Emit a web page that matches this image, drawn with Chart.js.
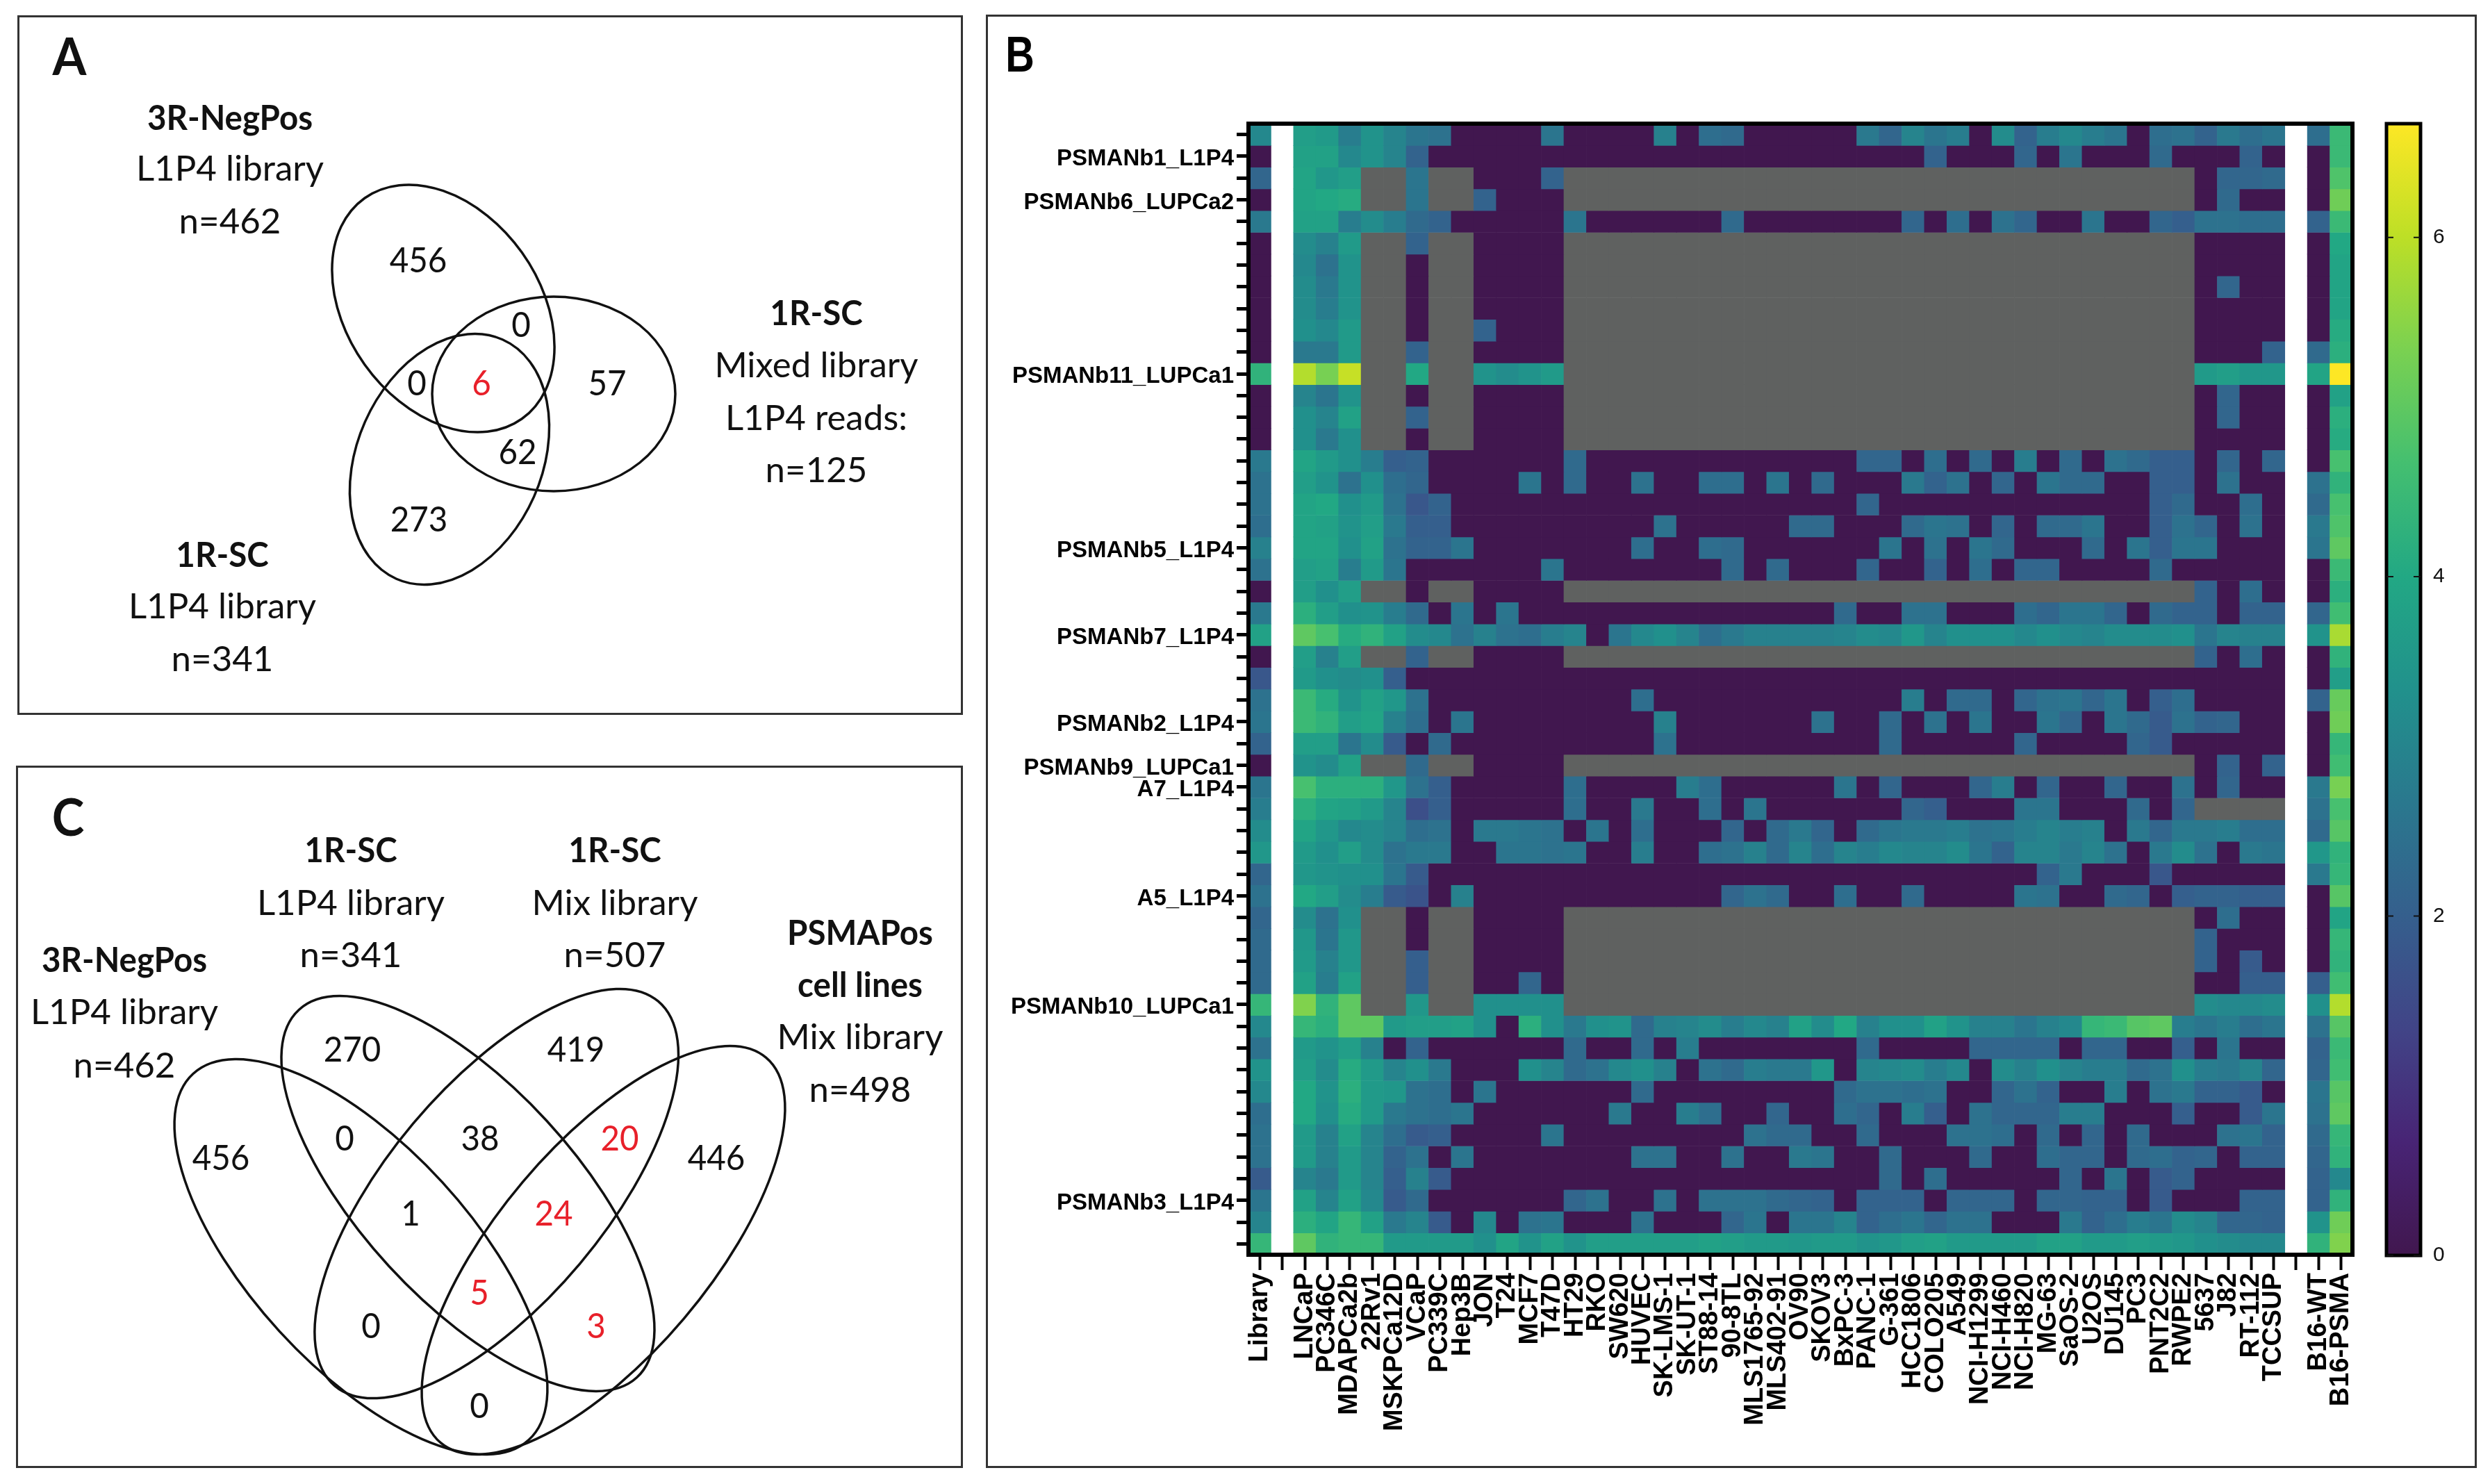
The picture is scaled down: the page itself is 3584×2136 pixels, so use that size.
<!DOCTYPE html>
<html>
<head>
<meta charset="utf-8">
<title>PSMA nanobody selection</title>
<script src="https://cdn.jsdelivr.net/npm/chart.js@4"></script>
<style>
    html, body { margin: 0; padding: 0; background: #fff; }
    #page { position: relative; width: 3584px; height: 2136px; overflow: hidden; background: #fff; }
    .panel { position: absolute; box-sizing: border-box; border: 3px solid #333; }
    canvas { position: absolute; }
</style>
</head>
<body>
<div id="page">
    <div class="panel" style="left:25px;top:22px;width:1361px;height:1007px"></div>
    <div class="panel" style="left:23px;top:1102px;width:1363px;height:1011px"></div>
    <div class="panel" style="left:1419px;top:21px;width:2146px;height:2092px"></div>
    <canvas id="vennA" width="1355" height="1001" style="left:28px;top:25px"></canvas>
    <canvas id="vennC" width="1357" height="1005" style="left:26px;top:1105px"></canvas>
    <canvas id="heatmap" width="2140" height="2086" style="left:1422px;top:24px"></canvas>
    <canvas id="colorbar" width="130" height="1670" style="left:3420px;top:160px"></canvas>
</div>
<script>
// ============================================
// DATA
// ============================================
const n = null; // not tested, drawn grey

const cellLines = ['Library', '', 'LNCaP', 'PC346C', 'MDAPCa2b', '22Rv1', 'MSKPCa12D', 'VCaP', 'PC339C', 'Hep3B',
    'JON', 'T24', 'MCF7', 'T47D', 'HT29', 'RKO', 'SW620', 'HUVEC', 'SK-LMS-1', 'SK-UT-1', 'ST88-14', '90-8TL',
    'MLS1765-92', 'MLS402-91', 'OV90', 'SKOV3', 'BxPC-3', 'PANC-1', 'G-361', 'HCC1806', 'COLO205', 'A549',
    'NCI-H1299', 'NCI-H460', 'NCI-H820', 'MG-63', 'SaOS-2', 'U2OS', 'DU145', 'PC3', 'PNT2C2', 'RWPE2',
    '5637', 'J82', 'RT-112', 'TCCSUP', '', 'B16-WT', 'B16-PSMA'];

const rowLabels = ['', 'PSMANb1_L1P4', '', 'PSMANb6_LUPCa2', '', '', '', '', '', '', '', 'PSMANb11_LUPCa1', '',
    '', '', '', '', '', '', 'PSMANb5_L1P4', '', '', '', 'PSMANb7_L1P4', '', '', '', 'PSMANb2_L1P4', '',
    'PSMANb9_LUPCa1', 'A7_L1P4', '', '', '', '', 'A5_L1P4', '', '', '', '', 'PSMANb10_LUPCa1', '', '', '', '',
    '', '', '', '', 'PSMANb3_L1P4', '', ''];

// one row per binder, one value per column of cellLines (log scale)
const heatmapRows = [
    [3.1,n,3.7,3.6,2.8,3.4,3.0,2.6,2.5,0,0,0,0,2.6,0,0,0,0,2.9,0,2.4,2.3,0,0,0,0,0,2.7,2.2,3.0,2.6,2.8,0,3.2,2.1,2.8,3.1,2.8,2.6,0,2.4,2.5,2.1,2.7,2.4,2.6,n,2.4,4.5],
    [0,n,3.8,3.8,3.1,3.4,3.0,2.1,0,0,0,0,0,0,0,0,0,0,0,0,0,0,0,0,0,0,0,0,0,0,2.1,0,0,0,2.2,0,2.6,0,0,0,2.3,0,0,0,2.1,0,n,0,4.5],
    [2.2,n,3.9,3.5,3.7,n,n,2.6,n,n,0,0,0,2.1,n,n,n,n,n,n,n,n,n,n,n,n,n,n,n,n,n,n,n,n,n,n,n,n,n,n,n,n,0,2.2,2.2,2.3,n,0,4.8],
    [0,n,3.9,4.0,4.1,n,n,2.6,n,n,2.1,0,0,0,n,n,n,n,n,n,n,n,n,n,n,n,n,n,n,n,n,n,n,n,n,n,n,n,n,n,n,n,0,2.3,0,0,n,0,5.2],
    [2.7,n,3.8,3.8,2.8,3.2,2.8,2.3,2.1,0,0,0,0,0,2.6,0,0,0,0,0,0,2.3,0,0,0,0,0,0,0,2.2,0,2.4,0,2.5,2.2,0,0,2.6,0,0,2.2,2.0,2.5,2.5,2.4,2.4,n,2.1,4.5],
    [0,n,3.2,2.9,3.6,n,n,2.1,n,n,0,0,0,0,n,n,n,n,n,n,n,n,n,n,n,n,n,n,n,n,n,n,n,n,n,n,n,n,n,n,n,n,0,0,0,0,n,0,4.0],
    [0,n,3.1,2.5,3.4,n,n,0,n,n,0,0,0,0,n,n,n,n,n,n,n,n,n,n,n,n,n,n,n,n,n,n,n,n,n,n,n,n,n,n,n,n,0,0,0,0,n,0,3.9],
    [0,n,3.2,2.7,3.4,n,n,0,n,n,0,0,0,0,n,n,n,n,n,n,n,n,n,n,n,n,n,n,n,n,n,n,n,n,n,n,n,n,n,n,n,n,0,2.2,0,0,n,0,3.9],
    [0,n,3.2,2.8,3.4,n,n,0,n,n,0,0,0,0,n,n,n,n,n,n,n,n,n,n,n,n,n,n,n,n,n,n,n,n,n,n,n,n,n,n,n,n,0,0,0,0,n,0,3.9],
    [0,n,3.3,3.1,3.6,n,n,0,n,n,2.1,0,0,0,n,n,n,n,n,n,n,n,n,n,n,n,n,n,n,n,n,n,n,n,n,n,n,n,n,n,n,n,0,0,0,0,n,0,4.1],
    [0,n,2.7,2.7,3.6,n,n,2.1,n,n,0,0,0,0,n,n,n,n,n,n,n,n,n,n,n,n,n,n,n,n,n,n,n,n,n,n,n,n,n,n,n,n,0,0,0,2.1,n,2.3,4.2],
    [4.3,n,5.9,5.3,6.1,n,n,4.0,n,n,3.4,3.2,3.4,3.6,n,n,n,n,n,n,n,n,n,n,n,n,n,n,n,n,n,n,n,n,n,n,n,n,n,n,n,n,3.6,3.7,3.5,3.5,n,3.9,6.67],
    [0,n,3.0,2.6,3.4,n,n,0,n,n,0,0,0,0,n,n,n,n,n,n,n,n,n,n,n,n,n,n,n,n,n,n,n,n,n,n,n,n,n,n,n,n,0,2.2,0,0,n,0,3.8],
    [0,n,3.3,3.0,3.8,n,n,2.1,n,n,0,0,0,0,n,n,n,n,n,n,n,n,n,n,n,n,n,n,n,n,n,n,n,n,n,n,n,n,n,n,n,n,0,2.2,0,0,n,0,4.2],
    [0,n,3.3,2.7,3.3,n,n,0,n,n,0,0,0,0,n,n,n,n,n,n,n,n,n,n,n,n,n,n,n,n,n,n,n,n,n,n,n,n,n,n,n,n,0,0,0,0,n,0,4.1],
    [2.7,n,3.9,3.6,3.3,2.8,2.0,2.1,0,0,0,0,0,0,2.3,0,0,0,0,0,0,0,0,0,0,0,0,2.2,2.2,0,2.4,0,2.3,0,2.8,0,2.3,0,2.5,2.3,2.0,2.0,0,2.2,0,2.2,n,0,4.7],
    [2.5,n,3.7,3.4,2.5,3.3,2.4,2.2,0,0,0,0,2.6,0,2.3,0,0,2.5,0,0,2.4,2.4,0,2.6,0,2.3,0,0,0,2.7,2.1,2.5,0,2.2,0,2.6,2.3,2.3,0,0,2.0,2.0,0,2.5,0,0,n,2.5,4.3],
    [2.5,n,3.9,4.0,3.3,3.6,2.5,1.8,2.1,0,0,0,0,0,0,0,0,0,0,0,0,0,0,0,0,0,0,2.2,0,0,0,0,0,0,0,0,0,0,0,0,2.0,2.3,0,0,2.4,0,n,2.3,4.7],
    [2.4,n,3.9,3.8,3.4,3.7,2.7,2.0,2.0,0,0,0,0,0,0,0,0,0,2.5,0,0,0,0,0,2.3,2.3,0,0,0,2.3,2.6,2.5,0,2.2,0,2.3,2.3,2.6,0,0,2.0,2.5,2.2,0,2.5,0,n,2.7,4.8],
    [2.9,n,3.9,3.9,3.3,3.8,2.5,2.1,2.1,2.6,0,0,0,0,0,0,0,2.4,0,0,2.4,2.3,0,0,0,0,0,0,2.6,0,2.5,0,2.6,2.3,0,0,0,2.3,0,2.6,2.0,2.6,2.6,0,0,0,n,2.6,5.0],
    [2.5,n,3.7,3.8,2.8,3.6,2.6,0,0,0,0,0,0,2.6,0,0,0,0,0,0,0,2.3,0,2.3,0,0,0,2.2,0,0,2.1,0,2.4,0,2.2,2.2,0,0,0,0,2.3,0,0,0,0,0,n,0,4.5],
    [0,n,3.7,3.3,3.7,n,n,0,n,n,0,0,0,0,n,n,n,n,n,n,n,n,n,n,n,n,n,n,n,n,n,n,n,n,n,n,n,n,n,n,n,n,2.1,0,2.4,0,n,0,4.2],
    [2.7,n,4.2,3.7,3.3,3.4,2.8,2.3,0,2.6,0,2.6,0,0,0,0,0,0,0,0,0,0,0,0,0,0,2.3,0,0,2.5,2.5,0,0,0,2.4,2.2,2.6,2.6,2.2,0,2.3,2.1,2.1,0,2.1,2.1,n,2.2,4.6],
    [3.8,n,5.0,4.7,4.1,4.3,3.8,3.2,3.1,2.5,2.9,2.5,2.4,2.8,3.0,0,2.6,3.1,3.3,3.0,2.4,2.7,2.9,2.9,2.9,2.9,3.0,3.2,3.1,3.5,3.0,3.3,3.3,3.3,3.1,3.3,3.1,3.0,3.2,3.2,3.2,3.3,2.6,3.0,2.9,2.9,n,3.4,5.8],
    [0,n,3.7,2.9,3.7,n,n,2.1,n,n,0,0,0,0,n,n,n,n,n,n,n,n,n,n,n,n,n,n,n,n,n,n,n,n,n,n,n,n,n,n,n,n,2.1,0,2.4,0,n,0,4.3],
    [1.8,n,3.6,3.3,3.2,3.3,2.0,0,0,0,0,0,0,0,0,0,0,0,0,0,0,0,0,0,0,0,0,0,0,0,0,0,0,0,0,0,0,0,0,0,0,0,0,0,0,0,n,0,3.7],
    [2.5,n,4.5,4.1,3.4,3.8,3.5,2.5,0,0,0,0,0,0,0,0,0,2.4,0,0,0,0,0,0,0,0,0,0,0,2.8,0,2.3,2.3,0,2.2,2.5,2.6,2.2,2.6,0,2.0,2.4,0,0,0,0,n,2.1,5.1],
    [2.6,n,4.5,4.3,3.7,3.9,2.9,2.4,0,2.6,0,0,0,0,0,0,0,0,2.9,0,0,0,0,0,0,2.5,0,0,2.3,0,2.5,0,2.6,0,0,2.6,2.2,0,2.6,2.3,1.9,2.5,2.1,2.2,0,0,n,0,5.2],
    [2.1,n,3.7,3.7,2.6,3.2,1.9,0,2.3,0,0,0,0,0,0,0,0,0,2.5,0,0,0,0,0,0,0,0,0,2.3,0,0,0,0,0,2.2,0,0,0,0,2.2,1.9,0,0,0,0,0,n,0,4.4],
    [0,n,3.4,3.2,3.8,n,n,2.3,n,n,0,0,0,0,n,n,n,n,n,n,n,n,n,n,n,n,n,n,n,n,n,n,n,n,n,n,n,n,n,n,n,n,0,2.1,0,2.1,n,0,4.6],
    [2.6,n,4.7,4.2,4.2,4.2,3.5,2.5,2.0,0,0,0,0,0,2.4,0,0,0,0,2.8,2.4,0,0,0,0,0,2.6,0,2.2,0,0,0,2.2,2.8,0,2.2,0,0,2.2,0,0,2.5,0,2.2,0,0,n,2.7,5.3],
    [2.8,n,4.2,3.9,3.8,3.6,3.0,1.6,2.0,0,0,0,0,0,2.4,0,0,2.7,0,0,2.4,0,2.6,0,0,0,0,0,0,2.2,2.0,0,0,0,2.6,2.6,0,0,0,2.3,0,2.2,n,n,n,n,n,2.5,4.7],
    [3.2,n,3.9,3.5,3.1,3.2,3.0,2.4,2.5,0,2.7,2.7,2.6,2.5,0,2.6,0,2.4,0,0,0,2.2,0,2.3,2.7,2.2,0,2.3,2.6,2.7,2.7,2.8,2.5,2.6,2.8,3.0,2.8,2.9,0,2.7,2.2,2.7,2.7,2.8,2.4,2.4,n,2.3,4.9],
    [3.5,n,3.6,3.3,3.7,3.2,2.5,2.7,2.7,0,0,2.6,2.6,2.5,2.6,0,0,2.8,0,0,2.4,2.5,2.9,2.3,3.0,2.4,3.0,2.8,3.1,3.0,3.0,3.2,2.6,2.1,3.0,3.0,2.7,3.0,2.5,0,2.7,3.2,2.5,0,2.7,2.6,n,3.5,4.3],
    [2.2,n,3.5,3.4,3.3,3.3,2.6,1.9,0,0,0,0,0,0,0,0,0,0,0,0,0,0,0,0,0,0,0,0,0,0,0,0,0,0,0,2.1,2.7,0,0,0,1.8,0,0,0,0,0,n,2.7,4.4],
    [2.5,n,4.0,3.7,3.2,2.8,1.9,1.7,0,2.9,0,0,0,0,0,0,0,0,0,0,0,2.2,2.5,2.3,0,0,2.4,0,0,2.3,0,0,0,0,2.6,2.5,0,0,2.3,2.2,0,2.0,2.1,2.1,2.0,2.0,n,0,4.9],
    [2.2,n,3.2,2.5,3.3,n,n,0,n,n,0,0,0,0,n,n,n,n,n,n,n,n,n,n,n,n,n,n,n,n,n,n,n,n,n,n,n,n,n,n,n,n,0,2.4,0,0,n,0,3.9],
    [2.3,n,3.5,2.6,3.5,n,n,0,n,n,0,0,0,0,n,n,n,n,n,n,n,n,n,n,n,n,n,n,n,n,n,n,n,n,n,n,n,n,n,n,n,n,2.1,0,0,0,n,0,4.4],
    [2.3,n,3.6,2.9,3.5,n,n,2.0,n,n,0,0,0,0,n,n,n,n,n,n,n,n,n,n,n,n,n,n,n,n,n,n,n,n,n,n,n,n,n,n,n,n,2.1,0,1.9,0,n,0,4.3],
    [2.3,n,3.8,2.8,3.8,n,n,2.0,n,n,0,0,2.2,0,n,n,n,n,n,n,n,n,n,n,n,n,n,n,n,n,n,n,n,n,n,n,n,n,n,n,n,n,0,0,2.0,2.0,n,2.0,4.6],
    [4.4,n,5.4,4.3,5.0,n,n,3.5,n,n,3.3,3.3,3.3,3.3,n,n,n,n,n,n,n,n,n,n,n,n,n,n,n,n,n,n,n,n,n,n,n,n,n,n,n,n,3.2,3.1,3.1,3.2,n,3.3,5.9],
    [3.1,n,4.4,4.2,5.0,5.0,3.6,3.7,3.7,3.8,3.3,0,4.2,3.3,2.7,3.3,3.4,2.3,2.9,3.0,3.2,2.8,3.1,2.9,3.8,3.2,4.0,2.9,3.3,3.3,3.8,3.4,2.9,2.9,2.6,2.9,3.1,4.4,4.5,4.9,5.0,2.8,2.6,2.8,2.4,2.6,n,2.5,4.9],
    [2.5,n,3.6,3.4,3.7,2.9,0,2.1,0,0,0,0,0,0,2.3,0,0,2.3,0,2.8,0,0,0,0,0,0,0,2.3,0,0,0,0,2.2,2.2,2.2,2.2,0,2.2,2.2,0,0,2.0,0,2.6,0,0,n,2.1,4.5],
    [3.4,n,3.7,3.2,4.1,3.6,3.0,3.3,2.7,0,0,0,3.3,3.0,2.3,2.5,3.1,3.3,2.9,0,2.5,2.3,2.8,2.7,2.7,3.5,0,3.0,3.1,3.2,2.8,3.1,0,3.2,2.9,3.3,3.0,2.8,2.8,2.3,2.5,3.3,2.8,2.7,3.0,2.2,n,2.2,4.6],
    [3.1,n,4.0,3.4,4.2,3.6,3.5,2.5,2.4,0,2.6,0,0,0,0,0,0,2.3,0,0,0,0,0,0,0,0,2.3,2.5,2.5,2.4,2.5,0,0,2.2,2.5,2.1,0,0,2.8,0,2.5,2.7,2.1,2.1,1.9,0,n,2.6,4.9],
    [2.4,n,4.0,3.3,4.1,3.6,2.7,2.5,2.4,2.6,0,0,0,0,0,0,2.7,0,0,2.8,2.4,0,0,2.2,0,0,2.4,2.2,0,2.8,2.0,0,2.5,2.2,2.2,2.2,2.8,2.8,0,0,0,2.0,0,0,1.9,2.6,n,2.5,5.0],
    [2.5,n,3.6,2.9,3.8,3.0,2.4,1.9,2.0,0,0,0,0,2.6,0,0,0,0,0,0,0,0,2.5,2.3,2.3,0,0,2.3,0,0,0,2.5,2.5,2.4,0,2.3,0,2.2,0,2.3,0,0,0,2.5,2.6,2.1,n,2.3,4.4],
    [2.5,n,3.6,2.9,3.6,3.0,2.1,2.5,0,2.6,0,0,0,0,0,0,0,2.5,2.5,0,0,2.5,0,0,2.7,2.6,0,0,2.3,0,0,0,2.3,0,0,2.4,2.2,2.2,0,2.3,2.4,2.1,2.2,0,2.1,2.1,n,2.2,4.3],
    [1.9,n,3.0,2.7,3.6,3.0,2.0,2.9,1.9,0,0,0,0,0,0,0,0,0,0,0,0,0,0,0,0,0,0,0,2.3,0,2.4,0,0,0,0,0,2.2,0,2.6,0,1.9,2.1,0,0,0,0,n,2.1,3.1],
    [2.6,n,3.8,3.0,3.8,3.1,1.9,2.3,0,0,0,0,0,0,2.2,2.5,0,0,2.5,0,2.5,2.5,2.5,2.3,2.2,2.1,0,2.1,2.1,2.1,0,2.2,2.2,2.2,0,2.2,2.2,2.1,2.1,0,1.9,0,0,0,2.1,2.1,n,2.1,4.3],
    [3.0,n,4.2,3.9,4.4,3.8,2.7,3.0,1.9,0,3.1,0,2.5,2.6,0,0,0,2.5,0,0,0,2.2,2.6,0,2.6,2.6,3.0,2.1,2.4,2.6,2.2,2.5,2.5,0,0,0,2.7,2.1,2.4,2.8,2.6,3.2,3.0,2.2,2.2,2.1,n,3.4,5.2],
    [4.4,n,5.0,4.3,4.4,4.4,3.6,3.6,3.6,3.6,3.3,3.9,3.4,3.8,3.4,3.7,3.7,3.7,3.7,3.7,3.8,3.7,3.6,3.6,3.5,3.6,3.6,3.4,3.5,3.7,3.8,3.6,3.6,3.6,3.6,3.8,3.8,3.6,3.6,3.7,3.6,3.5,3.3,3.2,3.1,3.1,n,4.3,5.4]
];

const colorbarTicks = [0, 2, 4, 6];
const colorbarMax = 6.67;

const vennACounts = [456, 0, 57, 0, 6, 62, 273];
const vennCCounts = [456, 270, 419, 446, 0, 38, 20, 1, 24, 5, 0, 3, 0];

// ============================================
// STYLE AND LAYOUT
// ============================================
const viridis = ['#41174f', '#482475', '#414487', '#355f8d', '#2a788e', '#21918c', '#22a884', '#44bf70', '#7ad151', '#bddf26', '#fde725'];
const greyCell = '#5f6160';
const redText = '#e8202a';
const vennFont = 'Lato, "Open Sans", sans-serif';
const axisFont = '"Liberation Sans", Arial, sans-serif';

// label positions in page pixels
const vennASpots = [[602, 376], [750, 469], [874, 553], [600, 553], [693, 553], [745, 652], [603, 749]];
const vennARed = [4];
const vennAEllipses = [[638, 444, 195, 139, 54.5], [797, 567, 175, 140, 0], [647, 661, 188.4, 133, -66.1]];
const vennALabels = [
    ['A', 100, 84, true, 74],
    ['3R-NegPos', 331, 171, true], ['L1P4 library', 331, 244], ['n=462', 331, 320],
    ['1R-SC', 1175, 452, true], ['Mixed library', 1175, 527], ['L1P4 reads:', 1175, 603], ['n=125', 1175, 678],
    ['1R-SC', 320, 800, true], ['L1P4 library', 320, 874], ['n=341', 320, 950],
];

const vennCSpots = [[318, 1668], [507, 1512], [829, 1512], [1031, 1668], [496, 1640], [691, 1640], [892, 1640],
    [591, 1748], [797, 1748], [690, 1862], [534, 1910], [858, 1910], [690, 2025]];
const vennCRed = [6, 8, 9, 11];
const vennCEllipses = [[519.5, 1809, 357.5, 158.9, 47.5], [868.5, 1799.5, 362.9, 152.1, -49.8],
    [673.5, 1718, 359.4, 154.4, 47.4], [714.7, 1718, 361.6, 156.8, -49.95]];
const vennCLabels = [
    ['C', 98, 1179, true, 74],
    ['1R-SC', 505, 1225, true], ['L1P4 library', 505, 1301], ['n=341', 505, 1376],
    ['1R-SC', 885, 1225, true], ['Mix library', 885, 1301], ['n=507', 885, 1376],
    ['3R-NegPos', 179, 1383, true], ['L1P4 library', 179, 1458], ['n=462', 179, 1535],
    ['PSMAPos', 1238, 1344, true], ['cell lines', 1238, 1419, true], ['Mix library', 1238, 1494], ['n=498', 1238, 1570],
];

function hexToRgb(hex) {
    return [1, 3, 5].map((i) => parseInt(hex.slice(i, i + 2), 16));
}

function cellColor(value) {
    if (value === null) return greyCell;
    const t = Math.min(value / colorbarMax, 1) * (viridis.length - 1);
    const i = Math.min(Math.floor(t), viridis.length - 2);
    const a = hexToRgb(viridis[i]);
    const b = hexToRgb(viridis[i + 1]);
    const mix = a.map((c, k) => Math.round(c + (b[k] - c) * (t - i)));
    return `rgb(${mix[0]},${mix[1]},${mix[2]})`;
}

// ============================================
// VENN PANELS
// ============================================
const vennPlugin = {
    id: 'venn',
    afterDraw(chart, args, opts) {
        const ctx = chart.ctx;
        const xs = chart.scales.x;
        const ys = chart.scales.y;

        ctx.save();
        ctx.strokeStyle = '#111';
        ctx.lineWidth = 3.5;
        opts.ellipses.forEach((e) => {
            ctx.beginPath();
            ctx.ellipse(xs.getPixelForValue(e[0]), ys.getPixelForValue(e[1]), e[2], e[3], e[4] * Math.PI / 180, 0, Math.PI * 2);
            ctx.stroke();
        });

        ctx.textAlign = 'center';
        ctx.textBaseline = 'middle';
        const put = (text, x, y, font, color, squeeze) => {
            ctx.save();
            ctx.translate(xs.getPixelForValue(x), ys.getPixelForValue(y));
            ctx.scale(squeeze, 1);
            ctx.font = font;
            ctx.fillStyle = color;
            ctx.fillText(text, 0, 0);
            ctx.restore();
        };
        opts.labels.forEach((l) => {
            put(l[0], l[1], l[2], `${l[3] ? 'bold ' : ''}${l[4] || 50}px ${vennFont}`, '#111', l[3] ? 0.95 : 1.02);
        });
        chart.data.datasets[0].data.forEach((p, i) => {
            put(String(p.count), p.x, p.y, `50px ${vennFont}`, opts.red.includes(i) ? redText : '#111', 0.95);
        });
        ctx.restore();
    },
};

function drawVenn(id, left, top, width, height, counts, spots, red, ellipses, labels) {
    new Chart(document.getElementById(id), {
        type: 'scatter',
        data: {
            datasets: [{
                data: counts.map((count, i) => ({ x: spots[i][0], y: spots[i][1], count: count })),
                pointRadius: 0,
            }],
        },
        options: {
            responsive: false,
            animation: false,
            devicePixelRatio: 1,
            layout: { padding: 0 },
            plugins: {
                legend: { display: false },
                tooltip: { enabled: false },
                venn: { ellipses: ellipses, labels: labels, red: red },
            },
            scales: {
                x: { display: false, min: left, max: left + width },
                y: { display: false, min: top, max: top + height, reverse: true },
            },
        },
        plugins: [vennPlugin],
    });
}

drawVenn('vennA', 28, 25, 1355, 1001, vennACounts, vennASpots, vennARed, vennAEllipses, vennALabels);
drawVenn('vennC', 26, 1105, 1357, 1005, vennCCounts, vennCSpots, vennCRed, vennCEllipses, vennCLabels);

// ============================================
// HEATMAP
// ============================================
const framePlugin = {
    id: 'frame',
    afterDraw(chart, args, opts) {
        const a = chart.chartArea;
        chart.ctx.save();
        chart.ctx.strokeStyle = '#000';
        chart.ctx.lineWidth = opts.width;
        chart.ctx.strokeRect(a.left, a.top, a.right - a.left, a.bottom - a.top);
        chart.ctx.restore();
    },
};

const panelLetterPlugin = {
    id: 'panelLetter',
    afterDraw(chart) {
        const ctx = chart.ctx;
        ctx.save();
        ctx.translate(1468 - 1422, 83 - 24);
        ctx.scale(0.8, 1);
        ctx.font = `bold 72px ${axisFont}`;
        ctx.fillStyle = '#000';
        ctx.textAlign = 'center';
        ctx.textBaseline = 'middle';
        ctx.fillText('B', 0, 0);
        ctx.restore();
    },
};

new Chart(document.getElementById('heatmap'), {
    type: 'bar',
    data: {
        labels: cellLines,
        datasets: heatmapRows.map((row, r) => ({
            data: row.map((v, c) => (cellLines[c] === '' ? null : [r, r + 1])),
            backgroundColor: row.map(cellColor),
            borderWidth: 0,
        })),
    },
    options: {
        responsive: false,
        animation: false,
        devicePixelRatio: 1,
        layout: { padding: { top: 154, right: 176, left: 0, bottom: 0 } },
        datasets: { bar: { grouped: false, barPercentage: 1, categoryPercentage: 1 } },
        plugins: {
            legend: { display: false },
            tooltip: { enabled: false },
            frame: { width: 6 },
        },
        scales: {
            x: {
                type: 'category',
                offset: true,
                afterFit: (axis) => { axis.height = 304; },
                border: { display: false },
                grid: { drawOnChartArea: false, offset: false, tickLength: 22, tickWidth: 4, tickColor: '#000' },
                ticks: {
                    autoSkip: false,
                    minRotation: 90,
                    maxRotation: 90,
                    padding: 4,
                    color: '#000',
                    font: { family: axisFont, size: 38, weight: 'bold' },
                },
            },
            y: {
                type: 'linear',
                min: 0,
                max: rowLabels.length,
                reverse: true,
                afterBuildTicks: (axis) => { axis.ticks = rowLabels.map((_, i) => ({ value: i + 0.5 })); },
                afterFit: (axis) => { axis.width = 375; },
                border: { display: false },
                grid: { drawOnChartArea: false, tickLength: 17, tickWidth: 5, tickColor: '#000' },
                ticks: {
                    autoSkip: false,
                    padding: 4,
                    labelOffset: 4,
                    color: '#000',
                    font: { family: axisFont, size: 33, weight: 'bold' },
                    callback: (value, index) => rowLabels[index],
                },
            },
        },
    },
    plugins: [framePlugin, panelLetterPlugin],
});

// ============================================
// COLOUR BAR
// ============================================
const innerTicksPlugin = {
    id: 'innerTicks',
    afterDraw(chart) {
        const ctx = chart.ctx;
        const a = chart.chartArea;
        ctx.save();
        ctx.strokeStyle = '#111';
        ctx.lineWidth = 2;
        chart.scales.y.ticks.forEach((t) => {
            const y = chart.scales.y.getPixelForValue(t.value);
            ctx.beginPath();
            ctx.moveTo(a.left, y);
            ctx.lineTo(a.left + 10, y);
            ctx.moveTo(a.right - 10, y);
            ctx.lineTo(a.right, y);
            ctx.stroke();
        });
        ctx.restore();
    },
};

new Chart(document.getElementById('colorbar'), {
    type: 'bar',
    data: {
        labels: [''],
        datasets: [{
            data: [[0, colorbarMax]],
            borderWidth: 0,
            backgroundColor: (context) => {
                const area = context.chart.chartArea;
                if (!area) return viridis[0];
                const gradient = context.chart.ctx.createLinearGradient(0, area.bottom, 0, area.top);
                viridis.forEach((c, i) => gradient.addColorStop(i / (viridis.length - 1), c));
                return gradient;
            },
        }],
    },
    options: {
        responsive: false,
        animation: false,
        devicePixelRatio: 1,
        layout: { padding: { left: 15, top: 18, bottom: 23, right: 0 } },
        datasets: { bar: { barPercentage: 1, categoryPercentage: 1 } },
        plugins: {
            legend: { display: false },
            tooltip: { enabled: false },
            frame: { width: 5 },
        },
        scales: {
            x: { display: false },
            y: {
                type: 'linear',
                position: 'right',
                min: 0,
                max: colorbarMax,
                afterBuildTicks: (axis) => { axis.ticks = colorbarTicks.map((v) => ({ value: v })); },
                afterFit: (axis) => {
                    axis.width = 66;
                    // labels must not pull the bar in from its top and bottom edges
                    axis.paddingTop = 0;
                    axis.paddingBottom = 0;
                },
                border: { display: false },
                grid: { display: false, drawTicks: false },
                ticks: {
                    padding: 18,
                    color: '#111',
                    font: { family: axisFont, size: 30 },
                },
            },
        },
    },
    plugins: [framePlugin, innerTicksPlugin],
});
</script>
</body>
</html>
